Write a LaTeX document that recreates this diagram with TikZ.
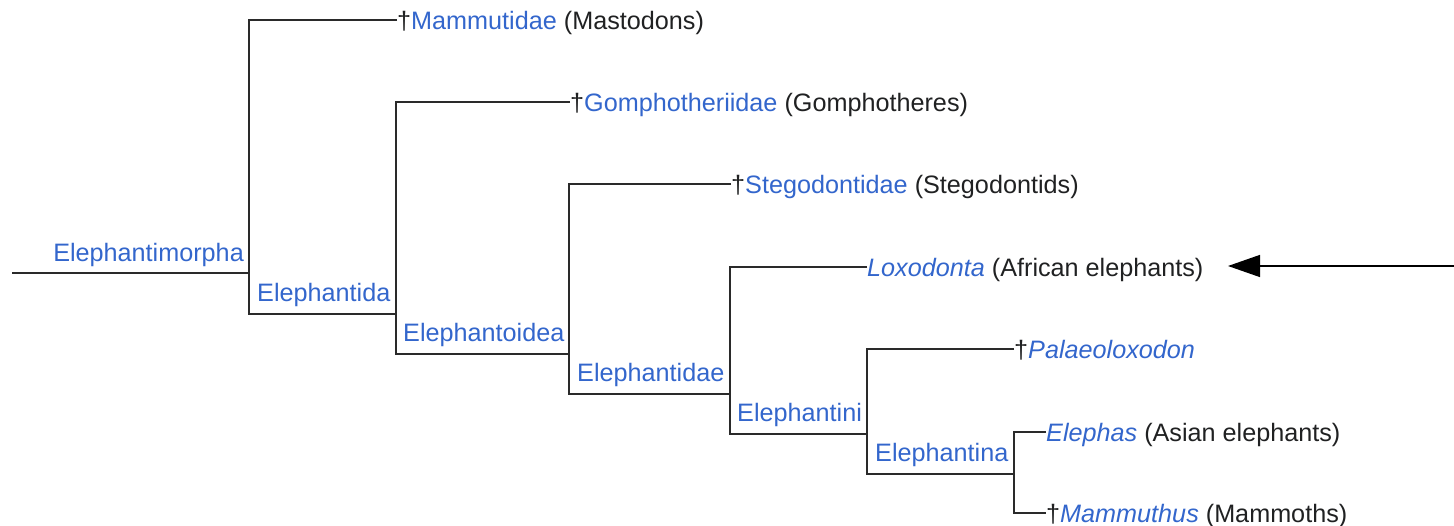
\documentclass[tikz,border=0pt]{standalone}
\usepackage{fontspec}
\setmainfont{Liberation Sans}
\usetikzlibrary{arrows.meta}
\definecolor{linkblue}{HTML}{3366CC}
\definecolor{txt}{HTML}{202122}
\definecolor{edge}{HTML}{2A2A2A}
\tikzset{
  lbl/.style={inner sep=0pt, font=\fontsize{25.2}{30}\selectfont},
  leaf/.style={lbl, anchor=west, text height=18pt, text depth=0pt, text=txt},
  clade/.style={lbl, anchor=base west, text=linkblue},
  branch/.style={draw=edge, line width=1.8pt},
  pointer/.style={draw=black, line width=1.4pt, -{Triangle[length=32pt,width=22pt]}}
}
\newcommand{\dg}{{\color{txt}†}}
\newcommand{\tx}[1]{{\color{linkblue}#1}}
\begin{document}
\begin{tikzpicture}[x=1pt,y=-1pt]
\useasboundingbox (0,0) rectangle (1454,525);
% junction coordinates
\coordinate (rootL) at (12,273);
\coordinate (j1) at (249,273);
\coordinate (c1) at (249,314);
\coordinate (c2) at (396,314);
\coordinate (c3) at (396,354);
\coordinate (c4) at (569,354);
\coordinate (c5) at (569,394);
\coordinate (c6) at (730,394);
\coordinate (c7) at (730,434);
\coordinate (c8) at (867,434);
\coordinate (c9) at (867,474);
\coordinate (c10) at (1014,474);
% leaves
\node[leaf] (mam) at (397,20) {\dg\tx{Mammutidae} (Mastodons)};
\node[leaf] (gom) at (570,102) {\dg\tx{Gomphotheriidae} (Gomphotheres)};
\node[leaf] (ste) at (731,184) {\dg\tx{Stegodontidae} (Stegodontids)};
\node[leaf] (lox) at (867,267) {\tx{\itshape Loxodonta} (African elephants)};
\node[leaf] (pal) at (1014,349) {\dg\tx{\itshape Palaeoloxodon}};
\node[leaf] (elp) at (1046,432) {\tx{\itshape Elephas} (Asian elephants)};
\node[leaf] (mth) at (1046,513) {\dg\tx{\itshape Mammuthus} (Mammoths)};
% clade labels
\node[lbl, anchor=base east, text=linkblue] (morpha) at (244,261) {Elephantimorpha};
\node[clade] (ida) at (257,301) {Elephantida};
\node[clade] (oidea) at (403,341) {Elephantoidea};
\node[clade] (idae) at (577,381) {Elephantidae};
\node[clade] (ini) at (737,421) {Elephantini};
\node[clade] (ina) at (875,461) {Elephantina};
% branches
\draw[branch] (rootL) -- (j1);
\draw[branch] (mam.west) -| (c1) -- (c2);
\draw[branch] (gom.west) -| (c3) -- (c4);
\draw[branch] (ste.west) -| (c5) -- (c6);
\draw[branch] (lox.west) -| (c7) -- (c8);
\draw[branch] (pal.west) -| (c9) -- (c10);
\draw[branch] (elp.west) -| (c10) |- (mth.west);
% pointer arrow
\coordinate (arrR) at (1454,266);
\coordinate (arrT) at (1228,266);
\draw[pointer] (arrR) -- (arrT);
\end{tikzpicture}
\end{document}
